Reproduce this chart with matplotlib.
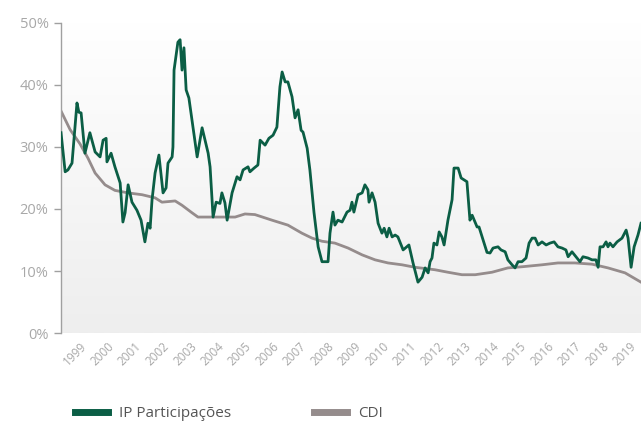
import numpy as np
import matplotlib.pyplot as plt
from matplotlib.lines import Line2D
from matplotlib.colors import LinearSegmentedColormap
from matplotlib.transforms import ScaledTranslation

# IP Participações (decimal year, % p.a.)
ip_years = [1998.13, 1998.28, 1998.38, 1998.53, 1998.71, 1998.78, 1998.86, 1999.00,
            1999.18, 1999.37, 1999.55, 1999.66, 1999.77, 1999.80, 1999.95, 2000.09,
            2000.28, 2000.38, 2000.46, 2000.57, 2000.71, 2000.89, 2001.04, 2001.18,
            2001.29, 2001.37, 2001.44, 2001.55, 2001.69, 2001.84, 2001.95, 2002.02,
            2002.17, 2002.20, 2002.24, 2002.38, 2002.46, 2002.53, 2002.60, 2002.68,
            2002.78, 2002.89, 2003.08, 2003.26, 2003.48, 2003.55, 2003.66, 2003.77,
            2003.91, 2003.98, 2004.09, 2004.17, 2004.35, 2004.53, 2004.64, 2004.75,
            2004.93, 2005.00, 2005.15, 2005.29, 2005.37, 2005.55, 2005.69, 2005.84,
            2005.98, 2006.09, 2006.17, 2006.28, 2006.38, 2006.53, 2006.64, 2006.75,
            2006.86, 2006.93, 2007.08, 2007.18, 2007.33, 2007.48, 2007.62, 2007.84,
            2007.91, 2008.02, 2008.09, 2008.20, 2008.35, 2008.53, 2008.64, 2008.71,
            2008.78, 2008.93, 2009.08, 2009.18, 2009.29, 2009.33, 2009.44, 2009.55,
            2009.66, 2009.80, 2009.88, 2009.98, 2010.06, 2010.17, 2010.28, 2010.38,
            2010.57, 2010.78, 2010.93, 2011.11, 2011.26, 2011.37, 2011.48, 2011.55,
            2011.62, 2011.69, 2011.80, 2011.88, 2011.98, 2012.06, 2012.20, 2012.35,
            2012.42, 2012.57, 2012.68, 2012.89, 2013.00, 2013.08, 2013.26, 2013.33,
            2013.48, 2013.62, 2013.73, 2013.84, 2014.02, 2014.13, 2014.28, 2014.38,
            2014.53, 2014.64, 2014.75, 2014.89, 2015.04, 2015.15, 2015.26, 2015.37,
            2015.48, 2015.62, 2015.77, 2015.91, 2016.06, 2016.20, 2016.35, 2016.49,
            2016.57, 2016.71, 2016.89, 2017.00, 2017.11, 2017.29, 2017.44, 2017.58,
            2017.66, 2017.73, 2017.84, 2017.95, 2018.02, 2018.09, 2018.20, 2018.35,
            2018.53, 2018.68, 2018.75, 2018.86, 2018.97, 2019.11, 2019.22]
ip_values = [32.3, 26.0, 26.3, 27.4, 37.1, 35.6, 35.5, 29.0,
             32.3, 29.2, 28.4, 31.1, 31.4, 27.6, 29.0, 26.8,
             24.2, 17.9, 19.4, 23.9, 21.1, 19.8, 18.2, 14.7,
             17.7, 16.9, 21.5, 25.8, 28.7, 22.6, 23.4, 27.4,
             28.4, 30.0, 42.4, 46.9, 47.3, 42.4, 46.0, 39.2,
             37.9, 34.4, 28.4, 33.1, 29.0, 26.8, 18.7, 21.1,
             20.9, 22.6, 21.0, 18.2, 22.6, 25.2, 24.7, 26.3,
             26.8, 26.0, 26.6, 27.1, 31.1, 30.3, 31.4, 31.9,
             33.2, 39.7, 42.1, 40.5, 40.5, 38.1, 34.7, 36.0,
             32.7, 32.4, 29.8, 26.3, 19.4, 13.9, 11.5, 11.5,
             16.1, 19.5, 17.4, 18.2, 17.9, 19.5, 19.8, 21.1,
             19.5, 22.3, 22.6, 23.9, 23.1, 21.1, 22.6, 21.1,
             17.7, 16.1, 16.9, 15.5, 16.9, 15.5, 15.8, 15.5,
             13.4, 14.2, 11.3, 8.2, 9.0, 10.5, 9.7, 11.5,
             12.1, 14.5, 14.2, 16.3, 15.5, 14.2, 18.2, 21.5,
             26.6, 26.6, 25.0, 24.4, 18.2, 19.0, 17.1, 17.1,
             15.0, 13.0, 12.9, 13.7, 13.9, 13.4, 13.1, 11.8,
             11.0, 10.5, 11.5, 11.5, 12.1, 14.5, 15.3, 15.3,
             14.2, 14.7, 14.2, 14.5, 14.7, 13.9, 13.7, 13.4,
             12.3, 13.1, 12.1, 11.5, 12.3, 12.1, 11.8, 11.8,
             10.6, 13.9, 13.9, 14.7, 13.9, 14.5, 13.9, 14.7,
             15.3, 16.6, 15.3, 10.6, 13.9, 15.8, 17.7]

# CDI (decimal year, % p.a.)
cdi_years = [1998.13, 1998.46, 1998.82, 1999.11, 1999.37, 1999.73, 2000.09, 2000.57,
             2001.08, 2001.55, 2001.80, 2002.28, 2002.53, 2002.89, 2003.11, 2004.46,
             2004.82, 2005.18, 2005.80, 2006.38, 2006.89, 2007.26, 2007.62, 2008.09,
             2008.57, 2009.08, 2009.55, 2010.02, 2010.53, 2011.00, 2011.73, 2012.20,
             2012.71, 2013.19, 2013.80, 2014.38, 2014.93, 2015.62, 2016.20, 2016.82,
             2017.44, 2018.02, 2018.64, 2019.22]
cdi_values = [35.8, 32.8, 30.5, 28.2, 25.8, 23.9, 23.0, 22.6,
              22.3, 21.8, 21.1, 21.3, 20.6, 19.4, 18.7, 18.7,
              19.2, 19.1, 18.2, 17.4, 16.1, 15.3, 14.8, 14.5,
              13.7, 12.6, 11.8, 11.3, 11.0, 10.6, 10.2, 9.8,
              9.4, 9.4, 9.8, 10.5, 10.7, 11.0, 11.3, 11.3,
              11.1, 10.5, 9.7, 8.2]

year_labels = list(range(1999, 2020))
y_ticks = [0, 10, 20, 30, 40, 50]

green = '#0b5e45'
grey = '#958c8c'
label_grey = '#a8a8a8'

plt.rcParams['font.family'] = ['Open Sans', 'DejaVu Sans']

fig = plt.figure(figsize=(6.41, 4.24), dpi=100)
ax = fig.add_axes([0.0952, 0.2146, 0.9048, 0.7312])

x0, x1 = 1998.13, 2019.22
ax.set_xlim(x0, x1)
ax.set_ylim(0, 50)

# vertical gradient background, white at top to light grey at the bottom
bg_cmap = LinearSegmentedColormap.from_list('bg', ['#ffffff', '#eeeeee'])
grad = np.linspace(0, 1, 256).reshape(-1, 1)
ax.imshow(grad, extent=(x0, x1, 0, 50), aspect='auto', cmap=bg_cmap,
          origin='upper', zorder=0)

ax.plot(cdi_years, cdi_values, color=grey, lw=2.0, zorder=2)
ax.plot(ip_years, ip_values, color=green, lw=2.0, zorder=3)

for s in ['top', 'right', 'bottom']:
    ax.spines[s].set_visible(False)
ax.spines['left'].set_color('#a0a0a0')
ax.spines['left'].set_linewidth(1.0)

ax.set_yticks(y_ticks)
ax.set_yticklabels([f'{v}%' for v in y_ticks])
ax.tick_params(axis='y', colors='#a0a0a0', labelcolor=label_grey,
               labelsize=10.5, length=5, width=1, pad=4)

ax.set_xticks(year_labels)
ax.set_xticklabels([str(y) for y in year_labels], rotation=45, ha='right',
                   va='top', rotation_mode='anchor')
ax.tick_params(axis='x', length=0, labelcolor=label_grey, labelsize=8.5, pad=5)
shift = ScaledTranslation(-5 / 100, 0, fig.dpi_scale_trans)
for lbl in ax.get_xticklabels():
    lbl.set_transform(lbl.get_transform() + shift)

handles = [Line2D([], [], color=green, lw=5),
           Line2D([], [], color=grey, lw=5)]
fig.legend(handles, ['IP Participações', 'CDI'], loc='center left',
           bbox_to_anchor=(0.095, 0.025), ncol=2, frameon=False,
           fontsize=11, handlelength=2.2, handletextpad=0.7,
           columnspacing=5.4, labelcolor='#555555')

fig.savefig('out.png', dpi=100)
